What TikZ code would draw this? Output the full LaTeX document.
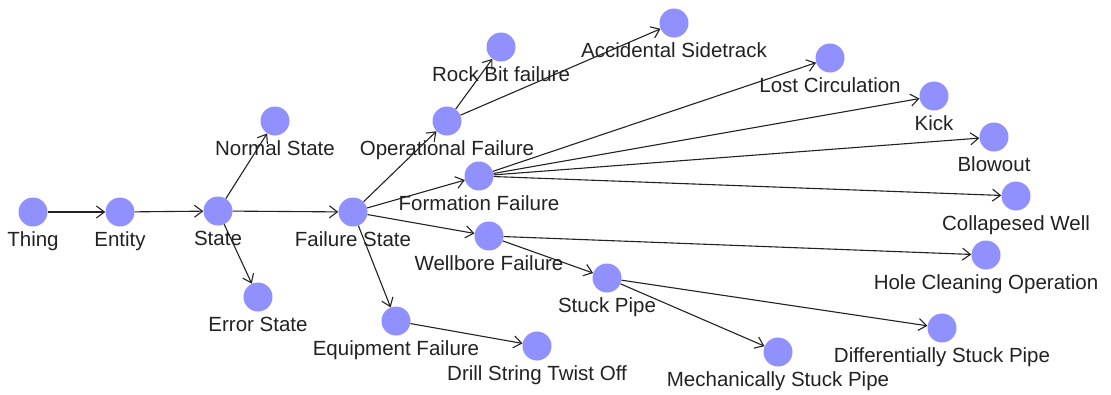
\documentclass[tikz,border=0pt]{standalone}
\usepackage{fontspec}
\setmainfont{Liberation Sans}
\usetikzlibrary{arrows.meta}
\definecolor{vfill}{RGB}{144,144,255}
\definecolor{ink}{RGB}{34,34,34}
\tikzset{
  vert/.style={circle, fill=vfill, draw=none, minimum size=29pt, inner sep=0pt},
  lbl/.style={anchor=base, text=ink, inner sep=0pt, font=\fontsize{20.5}{24}\selectfont},
  edge/.style={draw=ink, line width=1.1pt, -{Straight Barb[length=8pt, width=12pt, line width=1.1pt]}},
}
% vertex: name, x, y, caption (caption baseline 34 units below the centre)
\newcommand\vtx[4]{%
  \node[vert] (#1) at (#2,#3) {};
  \node[lbl] (#1-l) at (#2,#3+34) {#4};}
\begin{document}
\begin{tikzpicture}[x=1pt, y=-1pt]
\useasboundingbox (0,0) rectangle (1111,394);
\vtx{thing}{33}{212}{Thing}
\vtx{entity}{120}{212}{Entity}
\vtx{state}{218}{211}{State}
\vtx{normal}{275}{121}{Normal State}
\vtx{error}{258}{297}{Error State}
\vtx{failure}{353}{212}{Failure State}
\vtx{oper}{447}{121}{Operational Failure}
\vtx{rock}{501}{47}{Rock Bit failure}
\vtx{side}{674}{23}{Accidental Sidetrack}
\vtx{form}{479}{176}{Formation Failure}
\vtx{lost}{830}{58}{Lost Circulation}
\vtx{kick}{934}{96}{Kick}
\vtx{blow}{994}{137}{Blowout}
\vtx{coll}{1016}{196}{Collapesed Well}
\vtx{well}{489}{236}{Wellbore Failure}
\vtx{hole}{986}{255}{Hole Cleaning Operation}
\vtx{stuck}{607}{278}{Stuck Pipe}
\vtx{diff}{942}{328}{Differentially Stuck Pipe}
\vtx{mech}{778}{352}{Mechanically Stuck Pipe}
\vtx{equip}{396}{321}{Equipment Failure}
\vtx{twist}{537}{346}{Drill String Twist Off}

\foreach \a/\b in {thing/entity, entity/state, state/normal, state/error,
  state/failure, failure/oper, failure/form, failure/well, failure/equip,
  oper/rock, oper/side, form/lost, form/kick, form/blow, form/coll,
  well/hole, well/stuck, stuck/diff, stuck/mech, equip/twist}
  \draw[edge] (\a) -- (\b);
\end{tikzpicture}
\end{document}
